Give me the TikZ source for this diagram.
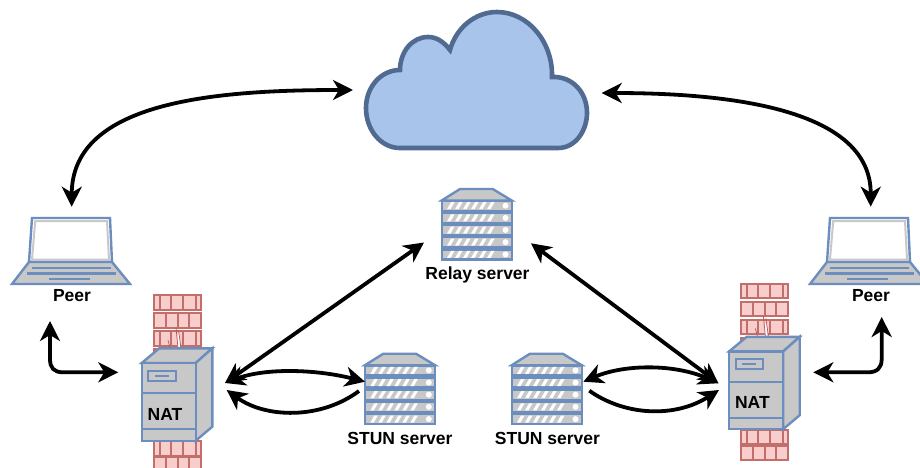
\documentclass[tikz,border=0pt]{standalone}
\usepackage{fontspec}
\setmainfont{Liberation Sans}
\usetikzlibrary{arrows.meta}
\definecolor{bluestroke}{HTML}{6C8EBF}
\definecolor{boxgray}{HTML}{C8C8C8}
\definecolor{brickfill}{HTML}{F8CECC}
\definecolor{brickstroke}{HTML}{B85450}
\definecolor{cloudfill}{HTML}{A9C4EB}
\definecolor{cloudstroke}{HTML}{516A92}
\tikzset{
  lbl/.style={font=\bfseries\fontsize{17.5}{20}\selectfont,text=black,inner sep=0pt,anchor=base},
  dev/.style={draw=bluestroke,line width=2.4pt,fill=boxgray,line join=miter},
  devline/.style={draw=bluestroke,line width=2.3pt},
  brick/.style={draw=brickstroke!85,line width=2pt,fill=brickfill},
  brickline/.style={draw=brickstroke!85,line width=2pt},
  crack/.style={draw=brickstroke,line width=0.7pt},
  link/.style={draw=black,line width=3.8pt,line join=round,
    tips=on proper draw},
  both/.style={link,{Stealth[length=20pt,width=20pt,inset=6pt]}-{Stealth[length=20pt,width=20pt,inset=6pt]}},
  toend/.style={link,-{Stealth[length=20pt,width=20pt,inset=6pt]}},
  pics/laptop/.style={code={
    \draw[dev,fill=white] (32,218) -- (110,218) -- (112,262) -- (29,262) -- cycle;
    \draw[draw=boxgray,line width=2pt] (35.2,221.2) -- (107,221.2) -- (109,259.5) -- (32,259.5) -- cycle;
    \draw[dev] (29,262) -- (112,262) -- (130,284) -- (12,284) -- cycle;
    \draw[devline] (32,268) -- (111,268);
    \draw[devline] (27,273.5) -- (116,273.5);
    \draw[devline] (49,279) -- (90,279);
  }},
  pics/firewall/.style={code={
    \foreach \yy/\kind in {295/a,313/b,331/a,349/b,367/a,385/b,403/a,421/b,441/a,457/b}{
      \draw[brick] (153.5,\yy) rectangle (200.5,\yy+14.5);
      \if a\kind
        \foreach \xx in {160,171,183,196}{\draw[brickline] (\xx,\yy) -- (\xx,\yy+14.5);}
      \else
        \foreach \xx in {166,178,189}{\draw[brickline] (\xx,\yy) -- (\xx,\yy+14.5);}
      \fi
    }
    \fill[white] (177.5,336) -- (179,333) -- (180.5,348) -- (177.5,348) -- cycle;
    \draw[crack] (176,328) -- (178,348);
    \draw[crack] (178.5,330) -- (181,348);
    \draw[crack] (168,340) -- (170,348);
  }},
  pics/natbox/.style={code={
    \draw[dev] (141.7,363) -- (159.3,348.3) -- (212.3,348.3) -- (195.7,363) -- cycle;
    \draw[dev] (195.7,363) -- (212.3,348.3) -- (212.3,426.7) -- (195.7,440.7) -- cycle;
    \draw[dev] (141.7,363) rectangle (195.7,440.7);
    \draw[devline] (141.7,393.3) -- (195.7,393.3);
    \draw[devline] (141.7,429.3) -- (195.7,429.3);
    \draw[devline] (148.3,370.7) rectangle (175.7,380.7);
    \draw[devline] (155,375.7) -- (169,375.7);
  }},
  pics/serverunit/.style={code={
    \draw[dev] (441.7,0) rectangle (511.7,10);
    \foreach \sx in {447,455,463,471,479,487}{
      \fill[white] (\sx,8.5) -- (\sx+3.5,8.5) -- (\sx+7.5,1.5) -- (\sx+4,1.5) -- cycle;
    }
    \fill[white] (505.5,5) circle (3);
  }},
  pics/server/.style={code={
    \draw[dev] (441.7,200.5) -- (460,189) -- (492.7,189) -- (511.7,200.5) -- cycle;
    \foreach \uy in {200.7,212.9,225,237.2,249.4}{
      \pic at (0,\uy) {serverunit};
    }
  }},
}
\begin{document}
\begin{tikzpicture}[x=1pt,y=-1pt]
\clip (0,0) rectangle (920,468);
\fill[white] (0,0) rectangle (920,468);

% cloud
\draw[fill=cloudfill,draw=cloudstroke,line width=4.6pt,line join=miter]
  (400,148) -- (558,148)
  .. controls (576,148) and (587,130) .. (587,113)
  .. controls (587,92) and (572,76) .. (552,77)
  .. controls (553,42) and (528,12) .. (497,12)
  .. controls (475,12) and (456,28) .. (450,50)
  .. controls (443,41) and (436,37) .. (428,37)
  .. controls (412,37) and (400,52) .. (400,70)
  .. controls (381,70) and (366,87) .. (366,108)
  .. controls (366,130) and (381,148) .. (400,148)
  -- cycle;

% devices
\pic {laptop};
\pic[shift={(798,0)}] {laptop};
\pic {firewall};
\pic[shift={(587.4,-11.5)}] {firewall};
\pic {natbox};
\pic[shift={(587.4,-11.5)}] {natbox};
\pic {server};
\pic[shift={(-76.7,164.7)}] {server};
\pic[shift={(70,164.7)}] {server};

% labels
\node[lbl] (peerL) at (72,301.7) {Peer};
\node[lbl] (peerR) at (871,301.7) {Peer};
\node[lbl] (natL) at (165,420) {NAT};
\node[lbl] (natR) at (752.4,408.3) {NAT};
\node[lbl] (relay) at (477.5,279.5) {Relay server};
\node[lbl] (stunL) at (400,444) {STUN server};
\node[lbl] (stunR) at (547.5,444) {STUN server};

% connector ends
\coordinate (cloudW) at (353,90);
\coordinate (cloudE) at (601.7,93);
\coordinate (lapL) at (71.7,206.7);
\coordinate (lapR) at (870.7,206.7);
\coordinate (peerLs) at (50,321);
\coordinate (peerRs) at (881.7,317);
\coordinate (natLw) at (118.3,372.3);
\coordinate (natRe) at (813.3,372.3);
\coordinate (natLr) at (225,383);
\coordinate (natRr) at (718.5,383.3);
\coordinate (relayW) at (424,242.5);
\coordinate (relayE) at (531,243.3);
\coordinate (natLb) at (226.7,390);
\coordinate (natRb) at (719,390);
\coordinate (stunLa) at (365,381.7);
\coordinate (stunLb) at (359,391);
\coordinate (stunRa) at (583.3,381.7);
\coordinate (stunRb) at (589.3,390.7);

% connectors
\draw[both] (lapL) .. controls (72,100) and (220,90) .. (cloudW);
\draw[both] (cloudE) .. controls (740,93) and (871,112) .. (lapR);
\draw[both] (peerLs) -- (50,359) .. controls (50,368) and (54,372.3) .. (63,372.3) -- (natLw);
\draw[both] (natRe) -- (868,372.3) .. controls (877,372.3) and (881.7,368) .. (881.7,359) -- (peerRs);
\draw[both] (natLr) -- (relayW);
\draw[both] (relayE) -- (natRr);
\draw[both] (natLr) .. controls (265,368) and (315,369) .. (stunLa);
\draw[toend] (stunLb) .. controls (320,420) and (265,418) .. (natLb);
\draw[both] (stunRa) .. controls (625,364) and (675,364) .. (natRr);
\draw[toend] (stunRb) .. controls (625,416) and (675,418) .. (natRb);
\end{tikzpicture}
\end{document}
